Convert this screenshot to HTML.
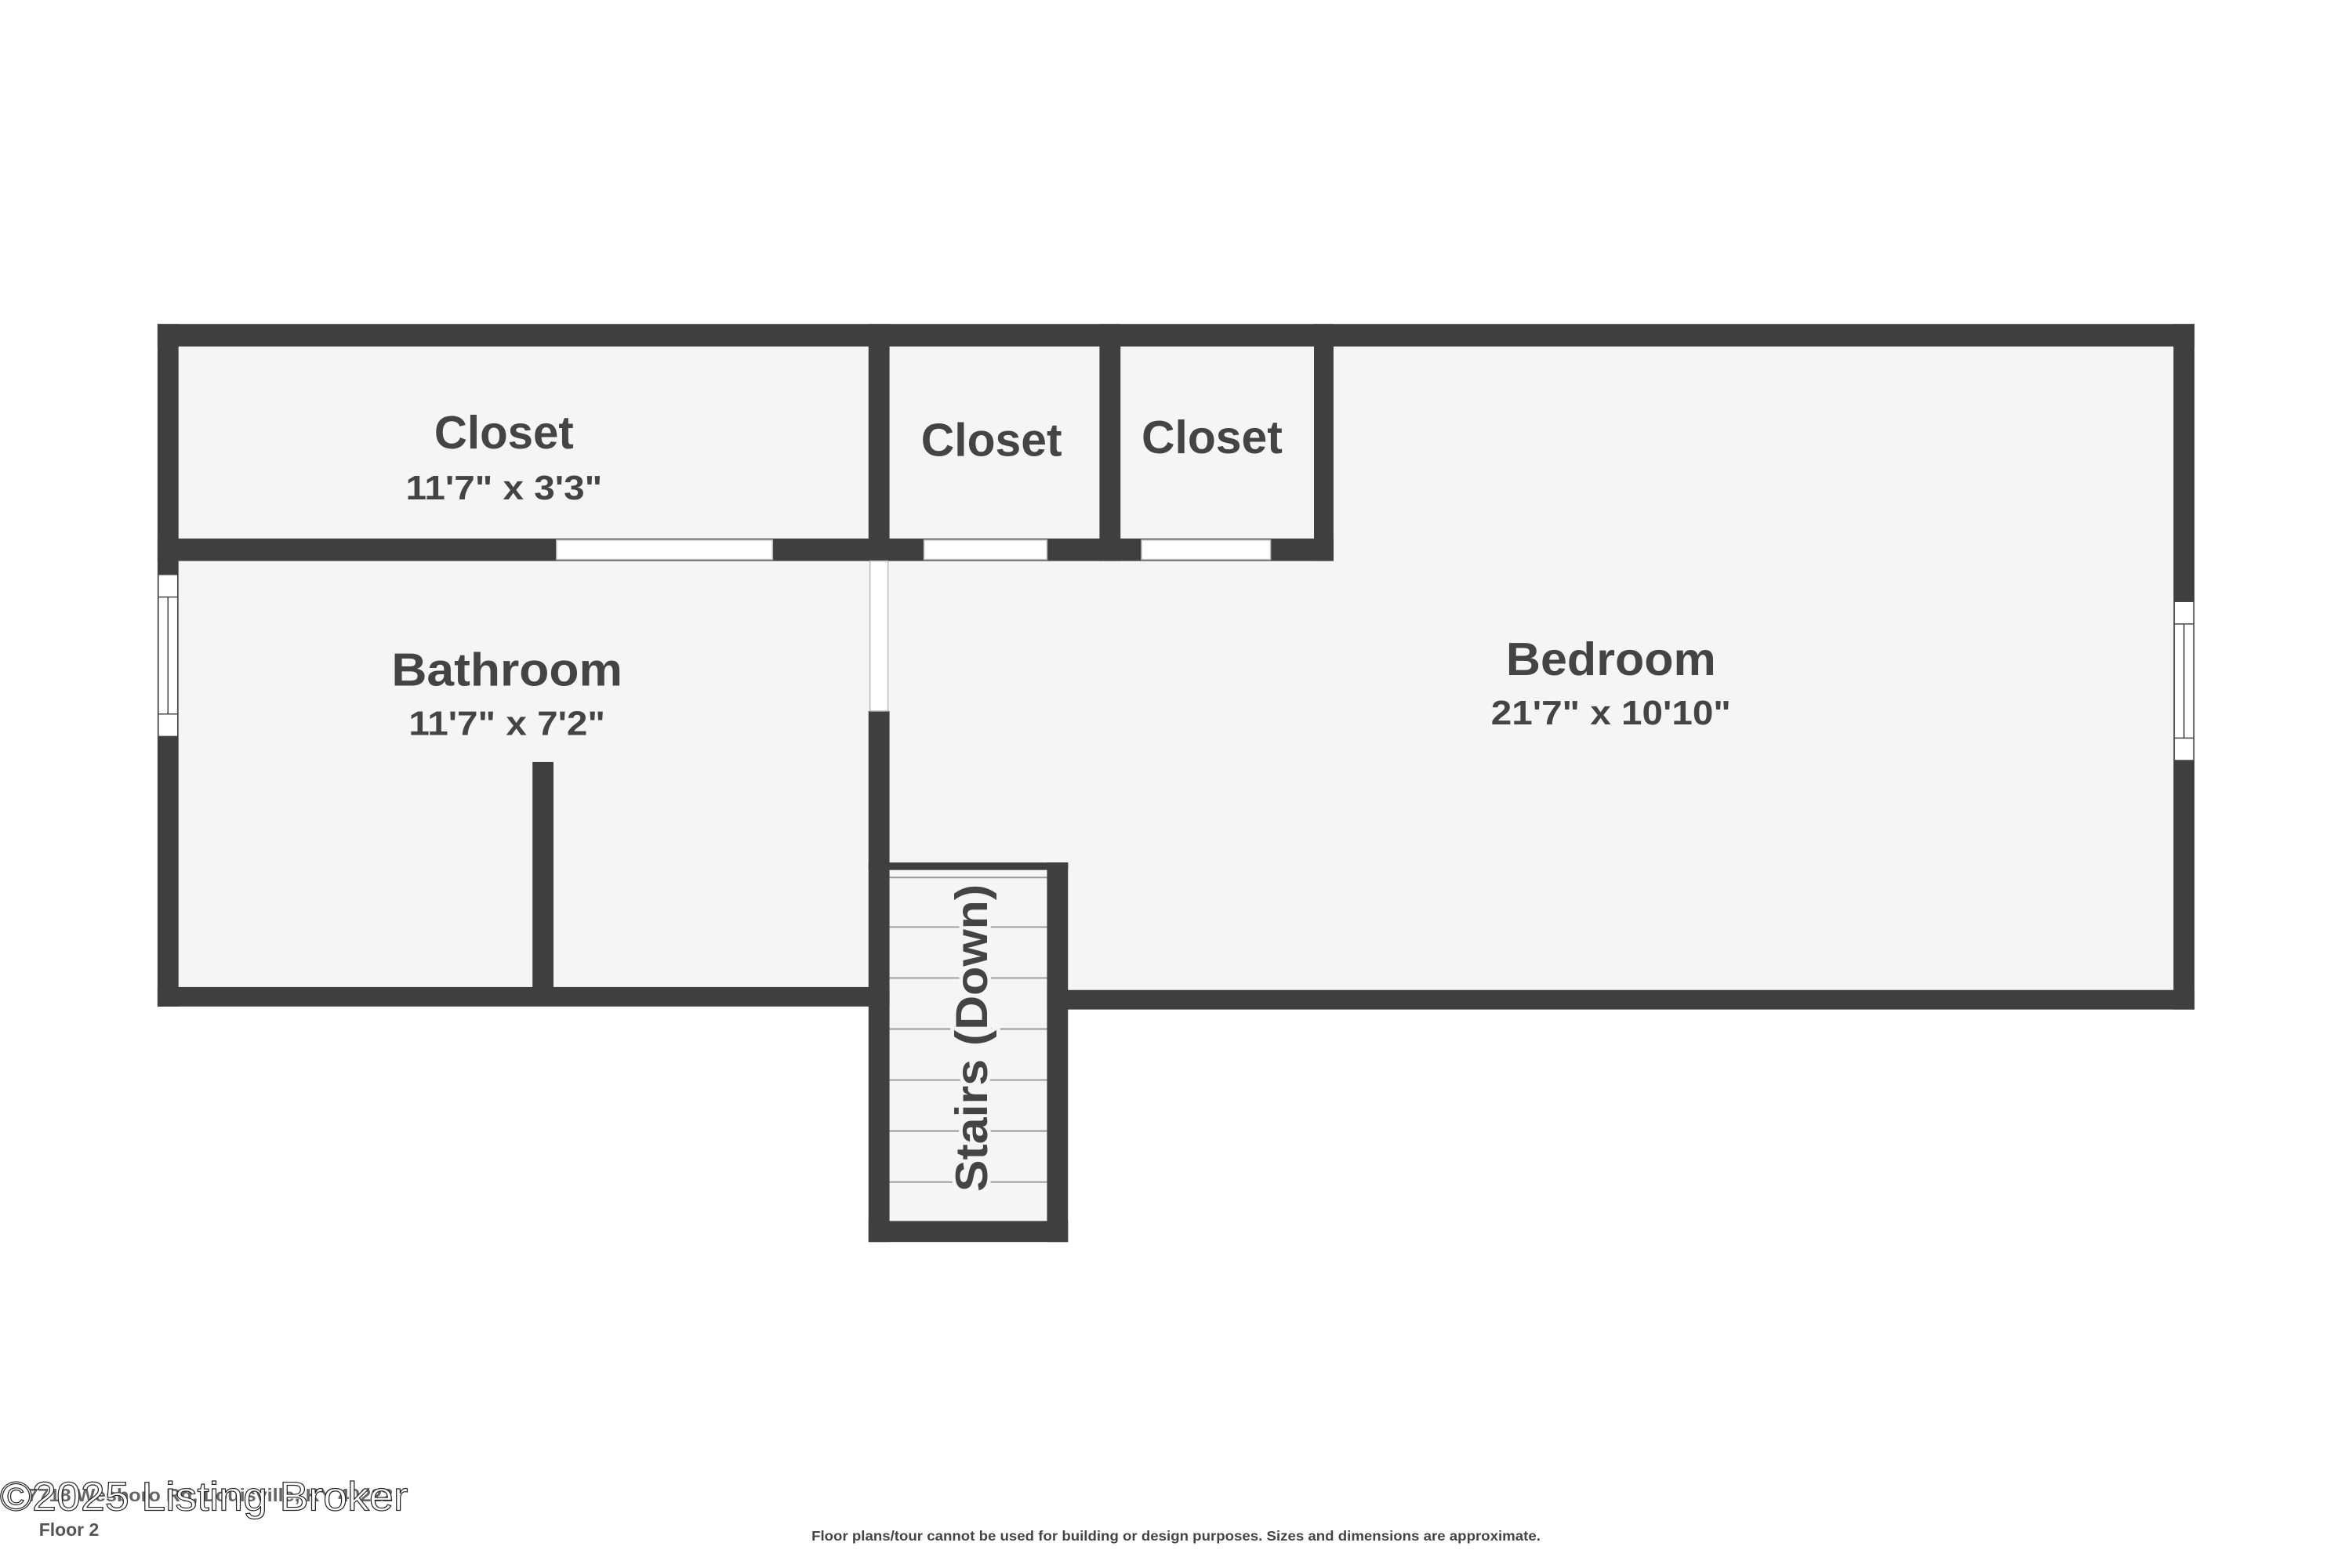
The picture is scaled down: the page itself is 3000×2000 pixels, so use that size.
<!DOCTYPE html>
<html><head><meta charset="utf-8"><style>
html,body{margin:0;padding:0;background:#fff;width:3000px;height:2000px;overflow:hidden}
svg{display:block}
text{font-family:"Liberation Sans",sans-serif;font-weight:bold;fill:#444}
</style></head><body>
<svg width="3000" height="2000" viewBox="0 0 1568 1045.33" preserveAspectRatio="none" xmlns="http://www.w3.org/2000/svg">
<rect x="0" y="0" width="1568" height="1046" fill="#fff"/>
<rect x="112" y="223" width="1344" height="443" fill="#f5f5f5"/>
<rect x="586" y="575" width="119" height="247" fill="#f5f5f5"/>
<g fill="#3f3f3f">
<rect x="105" y="216" width="1358" height="15"/>
<rect x="105" y="216" width="14" height="455"/>
<rect x="1449" y="216" width="14" height="457"/>
<rect x="105" y="658" width="488" height="13"/>
<rect x="698" y="660" width="765" height="13"/>
<rect x="105" y="359" width="784" height="15"/>
<rect x="579" y="216" width="14" height="158"/>
<rect x="733" y="216" width="14" height="158"/>
<rect x="876" y="216" width="13" height="158"/>
<rect x="579" y="474" width="14" height="354"/>
<rect x="355" y="508" width="14" height="157"/>
<rect x="579" y="575" width="133" height="5"/>
<rect x="698" y="575" width="14" height="253"/>
<rect x="579" y="814" width="133" height="14"/>
</g>
<g fill="#fff" stroke="#bbb" stroke-width="0.8">
<rect x="371" y="360" width="144" height="13"/>
<rect x="616" y="360" width="82" height="13"/>
<rect x="761" y="360" width="86" height="13"/>
<rect x="580" y="374" width="12" height="100"/>
</g>
<g fill="#fff" stroke="#444" stroke-width="0.8">
<rect x="105.5" y="383" width="13" height="108"/>
<line x1="105.5" y1="398" x2="118.5" y2="398"/>
<line x1="105.5" y1="476" x2="118.5" y2="476"/>
<line x1="112" y1="398" x2="112" y2="476"/>
<rect x="1449.5" y="401" width="13" height="106"/>
<line x1="1449.5" y1="416" x2="1462.5" y2="416"/>
<line x1="1449.5" y1="492" x2="1462.5" y2="492"/>
<line x1="1456" y1="416" x2="1456" y2="492"/>
</g>
<g stroke="#999" stroke-width="1">
<line x1="593" y1="585" x2="698" y2="585"/>
<line x1="593" y1="618" x2="698" y2="618"/>
<line x1="593" y1="652" x2="698" y2="652"/>
<line x1="593" y1="686" x2="698" y2="686"/>
<line x1="593" y1="720" x2="698" y2="720"/>
<line x1="593" y1="754" x2="698" y2="754"/>
<line x1="593" y1="788" x2="698" y2="788"/>
</g>
<g text-anchor="middle">
<text x="336" y="299" font-size="31" textLength="93" lengthAdjust="spacingAndGlyphs">Closet</text>
<text x="336" y="333" font-size="23" textLength="131" lengthAdjust="spacingAndGlyphs">11'7" x 3'3"</text>
<text x="661" y="304" font-size="31" textLength="94" lengthAdjust="spacingAndGlyphs">Closet</text>
<text x="808" y="302" font-size="31" textLength="94" lengthAdjust="spacingAndGlyphs">Closet</text>
<text x="338" y="457" font-size="31" textLength="154" lengthAdjust="spacingAndGlyphs">Bathroom</text>
<text x="338" y="490" font-size="23" textLength="131" lengthAdjust="spacingAndGlyphs">11'7" x 7'2"</text>
<text x="1074" y="450" font-size="31" textLength="140" lengthAdjust="spacingAndGlyphs">Bedroom</text>
<text x="1074" y="483" font-size="23" textLength="160" lengthAdjust="spacingAndGlyphs">21'7" x 10'10"</text>
<text transform="translate(658,692) rotate(-90)" font-size="30" textLength="205" lengthAdjust="spacingAndGlyphs" stroke="#f5f5f5" stroke-width="5" paint-order="stroke">Stairs (Down)</text>
</g>
<text x="18" y="1001" font-size="12" textLength="244" lengthAdjust="spacingAndGlyphs" style="fill:#666">7718 Wesboro Rd, Louisville, KY 40222</text>
<text x="0" y="1007" font-size="27" textLength="272" lengthAdjust="spacingAndGlyphs" style="font-weight:normal;fill:#fff;stroke:#222;stroke-width:0.6">©2025 Listing Broker</text>
<text x="26" y="1024" font-size="12" style="fill:#555">Floor 2</text>
<text x="784" y="1027" font-size="9" text-anchor="middle" textLength="486" lengthAdjust="spacingAndGlyphs" style="fill:#444">Floor plans/tour cannot be used for building or design purposes. Sizes and dimensions are approximate.</text>
</svg>
</body></html>
